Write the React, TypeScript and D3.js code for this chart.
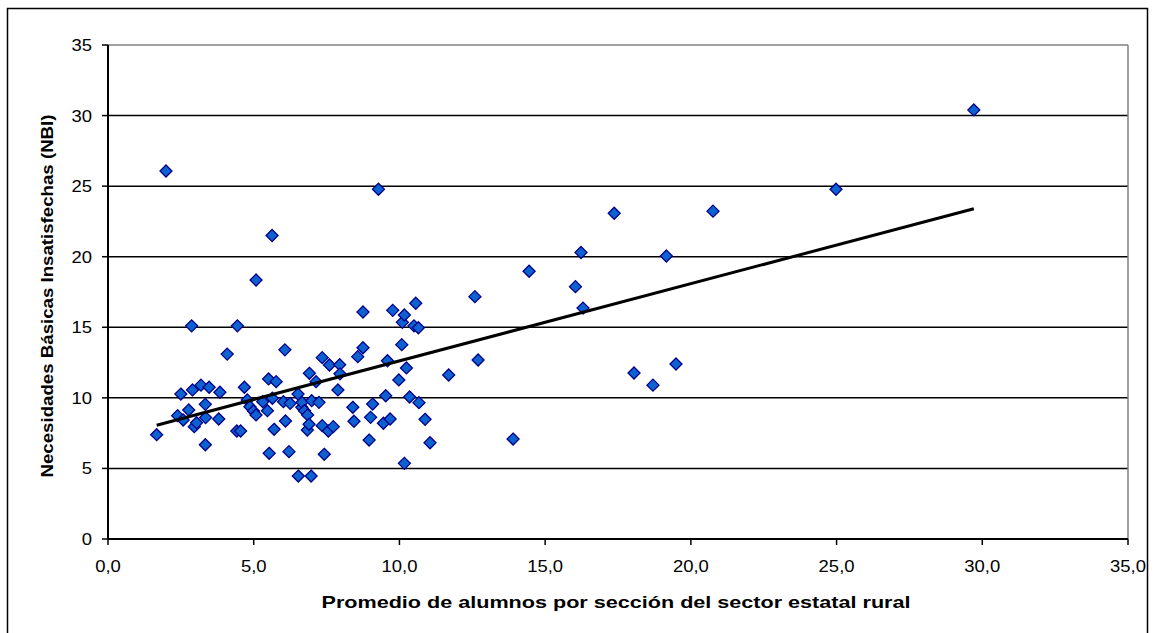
import React from 'react';
import * as d3 from 'd3';

const xValues = [
  1.67, 2.39, 2.5, 2.58, 2.77, 2.87, 2.9, 2.96, 3.04, 3.19, 3.34, 3.34, 3.35, 3.47, 3.8, 3.84, 4.09, 4.42, 4.44, 1.99,
  4.55, 4.68, 4.78, 4.87, 4.99, 5.08, 5.31, 5.47, 5.51, 5.53, 5.64, 5.7, 5.77, 6.02, 6.07, 6.09, 6.21, 6.25, 6.52, 6.53,
  6.65, 6.66, 6.74, 6.84, 6.85, 6.9, 6.91, 6.97, 6.99, 7.14, 7.24, 7.35, 7.35, 7.42, 7.56, 7.6, 7.73, 7.89, 7.95, 7.96,
  5.08, 5.63,
  8.4, 8.44, 8.57, 8.75, 8.75, 8.96, 9.01, 9.08, 9.28, 9.45, 9.53, 9.59, 9.68, 9.77, 9.98, 10.08, 10.1, 10.17, 10.17,
  10.24, 10.35, 10.5, 10.56, 10.65, 10.67, 10.88, 11.05, 11.69,
  12.59, 12.7, 13.9, 14.45, 16.04, 16.23, 16.3, 17.37, 18.05, 18.7, 19.16, 19.49, 20.76, 24.98, 29.71,
];
const yValues = [
  7.39, 8.74, 10.27, 8.43, 9.14, 15.1, 10.56, 7.96, 8.24, 10.9, 9.54, 6.68, 8.6, 10.75, 8.5, 10.4, 13.1, 7.65, 15.1, 26.07,
  7.65, 10.75, 9.85, 9.37, 9.07, 8.79, 9.73, 9.09, 11.34, 6.07, 9.97, 7.77, 11.15, 9.73, 13.4, 8.36, 6.19, 9.61, 10.27, 4.46,
  9.33, 9.68, 9.09, 7.72, 8.79, 8.13, 11.74, 4.46, 9.8, 11.15, 9.68, 12.85, 8.03, 6.0, 7.65, 12.33, 7.96, 10.56, 12.35, 11.7,
  18.35, 21.5,
  9.33, 8.34, 12.92, 16.08, 13.55, 7.01, 8.62, 9.56, 24.78, 8.2, 10.15, 12.63, 8.5, 16.2, 11.27, 13.77, 15.35, 15.87, 5.36,
  12.12, 10.06, 15.1, 16.7, 14.97, 9.66, 8.48, 6.82, 11.62,
  17.17, 12.68, 7.08, 18.97, 17.88, 20.3, 16.36, 23.08, 11.76, 10.9, 20.05, 12.4, 23.23, 24.78, 30.4,
];

const xTicks = [0, 5, 10, 15, 20, 25, 30, 35];
const yTicks = [0, 5, 10, 15, 20, 25, 30, 35];
const trendIntercept = 7.15;
const trendSlope = 0.547;

const xTitle = 'Promedio de alumnos por sección del sector estatal rural';
const yTitle = 'Necesidades Básicas Insatisfechas (NBI)';

export default function App() {
  const W = 1156;
  const H = 633;
  const left = 108, right = 1128, top = 45, bottom = 539;
  const x = d3.scaleLinear().domain([0, 35]).range([left, right]);
  const y = d3.scaleLinear().domain([0, 35]).range([bottom, top]);
  const font = "'Liberation Sans', Arial, sans-serif";
  const fmtX = (v: number) => d3.format('.1f')(v).replace('.', ',');

  const xMin = d3.min(xValues) as number;
  const xMax = d3.max(xValues) as number;
  const trend = d3.line<number>().x((d) => x(d)).y((d) => y(trendIntercept + trendSlope * d));
  const s = 6;
  const diamond = `M0,${-s}L${s},0L0,${s}L${-s},0Z`;

  return (
    <svg width={W} height={H} style={{ position: 'absolute', left: 0, top: 0, background: '#fff' }} fontFamily={font}>
      <rect x={0} y={0} width={W} height={H} fill="#fff" />
      <rect x={7.5} y={8.5} width={1140} height={700} fill="none" stroke="#000" strokeWidth={1.5} />
      {/* gridlines */}
      {yTicks.filter((t) => t > 0 && t < 35).map((t) => (
        <line key={'g' + t} x1={left} x2={right} y1={y(t)} y2={y(t)} stroke="#000" strokeWidth={1.5} />
      ))}
      {/* plot border top/right */}
      <line x1={left} x2={right} y1={top} y2={top} stroke="#808080" strokeWidth={1.5} />
      <line x1={right} x2={right} y1={top} y2={bottom} stroke="#808080" strokeWidth={1.5} />
      {/* axes */}
      <line x1={left} x2={left} y1={top} y2={bottom} stroke="#000" strokeWidth={2} />
      <line x1={left} x2={right} y1={bottom} y2={bottom} stroke="#000" strokeWidth={2} />
      {yTicks.map((t) => (
        <g key={'yt' + t}>
          <line x1={left - 6} x2={left} y1={y(t)} y2={y(t)} stroke="#000" strokeWidth={1.5} />
          <text transform={`translate(${left - 16},${y(t) + 6}) scale(1.12,1)`} textAnchor="end" fontSize={16.5} fill="#000">
            {t}
          </text>
        </g>
      ))}
      {xTicks.map((t) => (
        <g key={'xt' + t}>
          <line x1={x(t)} x2={x(t)} y1={bottom} y2={bottom + 6} stroke="#000" strokeWidth={1.5} />
          <text transform={`translate(${x(t)},${bottom + 33}) scale(1.12,1)`} textAnchor="middle" fontSize={16.5} fill="#000">
            {fmtX(t)}
          </text>
        </g>
      ))}
      {/* points */}
      {xValues.map((xv, i) => (
        <path
          key={'p' + i}
          d={diamond}
          transform={`translate(${x(xv)},${y(yValues[i])})`}
          fill="#0d62d0"
          stroke="#00008b"
          strokeWidth={1.3}
        />
      ))}
      {/* trend line */}
      <path d={trend([xMin, xMax]) || ''} fill="none" stroke="#000" strokeWidth={3} />
      {/* titles */}
      <text x={616} y={608} textAnchor="middle" fontSize={17} fontWeight="bold" textLength={589} lengthAdjust="spacingAndGlyphs">
        {xTitle}
      </text>
      <text
        transform={`translate(53,296) rotate(-90)`}
        textAnchor="middle"
        fontSize={16}
        fontWeight="bold"
        textLength={363}
        lengthAdjust="spacingAndGlyphs"
      >
        {yTitle}
      </text>
    </svg>
  );
}
